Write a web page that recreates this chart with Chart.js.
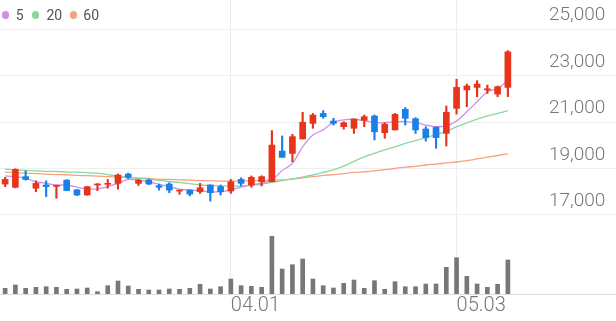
<!DOCTYPE html>
<html><head><meta charset="utf-8">
<script src="https://cdn.jsdelivr.net/npm/chart.js@4.4.1/dist/chart.umd.min.js"></script>
<style>
html,body{margin:0;padding:0;background:#fff;}
#wrap{position:relative;width:616px;height:321px;}
#c{position:absolute;left:0;top:0;}
.lg{position:absolute;font:14px Roboto, sans-serif;color:#555;line-height:14px;top:8px;}
.dot{position:absolute;width:7.6px;height:7.6px;border-radius:50%;top:11.2px;}
</style></head>
<body>
<div id="wrap">
<canvas id="c" width="616" height="321"></canvas>
<div id="legend"></div>
</div>
<script>
// ---- data ----
const dates = ['02.28','02.29','03.04','03.05','03.06','03.07','03.08','03.11','03.12','03.13','03.14','03.15','03.18','03.19','03.20','03.21','03.22','03.25','03.26','03.27','03.28','03.29',
 '04.01','04.02','04.03','04.04','04.05','04.08','04.09','04.11','04.12','04.15','04.16','04.17','04.18','04.19','04.22','04.23','04.24','04.25','04.26','04.29','04.30','05.02','05.03','05.07','05.08','05.09','05.10','05.13'];
const shownDates = ['04.01','05.03'];
const openP  = [18330,18190,18650,18150,18290,18230,18500,18080,17860,18290,18320,18360,18760,18360,18500,18260,18330,18030,18070,18000,18290,18220,18030,18530,18290,18430,18430,19750,19650,20270,20940,21370,21040,20800,20730,21070,21260,20540,20660,21550,21140,20700,20770,20510,21590,22380,22490,22380,22200,22490];
const highP  = [18620,18990,18900,18470,18470,18280,18520,18100,18230,18360,18530,18760,18800,18530,18550,18330,18390,18070,18080,18360,18300,18290,18530,18600,18680,18690,20630,20400,20470,21420,21370,21490,21160,21010,21130,21300,21300,20970,21370,21620,21190,20800,20800,21690,22840,22630,22780,22590,22550,24070];
const lowP   = [18220,18170,18500,18000,17790,17720,18040,17830,17850,18050,18150,18110,18560,18270,18300,18070,17960,17890,17820,17930,17600,17860,17930,18250,18190,18250,18430,19480,19290,20270,20730,21160,20870,20690,20510,20800,20230,20300,20660,20870,20510,20180,19870,19970,21340,21660,22090,22230,22090,22090];
const closeP = [18530,18960,18530,18360,18220,18280,18050,17860,18220,18330,18360,18720,18620,18500,18330,18190,18070,18070,17900,18170,17960,18000,18430,18360,18620,18650,20010,19480,20370,20990,21300,21230,20940,20970,21130,21230,20580,20910,21330,21160,20660,20330,20330,21420,22490,22550,22630,22430,22520,24020];
const volume = [57000,90000,57000,67000,73000,67000,47000,50000,60000,23000,83000,130000,80000,47000,40000,40000,50000,47000,57000,97000,50000,73000,150000,83000,77000,67000,577000,250000,293000,350000,150000,83000,60000,107000,140000,57000,133000,47000,123000,73000,73000,100000,100000,267000,363000,177000,100000,67000,97000,340000];
const ma5  = [18680,18650,18580,18430,18360,18290,18290,18200,18120,18120,18220,18360,18530,18500,18430,18320,18220,18110,18080,18050,18000,18000,18080,18200,18310,18360,18510,18910,19220,19930,20440,20660,20990,21090,21120,21060,20970,20970,21010,21020,20970,20870,20800,20830,21040,21440,21870,22300,22450,22780];
const ma20 = [18970,18940,18920,18900,18880,18870,18850,18840,18820,18800,18740,18670,18620,18580,18540,18490,18440,18400,18350,18290,18270,18250,18250,18240,18270,18320,18400,18480,18560,18630,18720,18830,18940,19100,19310,19500,19650,19800,19930,20080,20200,20330,20460,20610,20790,20960,21120,21260,21370,21490];
const ma60 = [18840,18820,18800,18780,18760,18740,18730,18700,18690,18670,18650,18630,18610,18590,18570,18540,18530,18510,18500,18480,18470,18460,18460,18460,18480,18480,18500,18510,18540,18600,18650,18700,18740,18780,18830,18860,18900,18950,19000,19060,19090,19150,19190,19240,19280,19340,19410,19490,19560,19630];
const maLabels = ['5','20','60'];
const priceTicks = [17000,19000,21000,23000,25000];

// ---- styles ----
const RED = '#e8341a', BLUE = '#1b7fe8';
const MA_COLORS = ['#cd8eec','#8ad7a0','#f7a27c'];
const PMIN = 13600, PMAX = 26250;
const candleColors = closeP.map((c,i) => c >= openP[i] ? RED : BLUE);

// HTML legend
const lg = document.getElementById('legend');
const dotX = [1.7, 31.7, 69.5], txtX = [15.7, 46.5, 83.3];
maLabels.forEach((t,i) => {
  const d = document.createElement('span'); d.className='dot'; d.style.left=dotX[i]+'px'; d.style.background=MA_COLORS[i]; lg.appendChild(d);
  const s = document.createElement('span'); s.className='lg'; s.style.left=txtX[i]+'px'; s.textContent=t; lg.appendChild(s);
});

const yFont = {family:'Roboto', size:19, weight:300};
const xFont = {family:'Roboto', size:20, weight:300};

new Chart(document.getElementById('c'), {
  type: 'bar',
  data: {
    labels: dates,
    datasets: [
      {type:'line', label:maLabels[0], data:ma5, borderColor:MA_COLORS[0], borderWidth:1.3, pointRadius:0, tension:0.25, yAxisID:'y', order:3},
      {type:'line', label:maLabels[1], data:ma20, borderColor:MA_COLORS[1], borderWidth:1.3, pointRadius:0, tension:0.25, yAxisID:'y', order:4},
      {type:'line', label:maLabels[2], data:ma60, borderColor:MA_COLORS[2], borderWidth:1.3, pointRadius:0, tension:0.25, yAxisID:'y', order:5},
      {label:'wick', data: lowP.map((l,i)=>[l, highP[i]]), backgroundColor:candleColors, barThickness:1.5, grouped:false, yAxisID:'y', order:1},
      {label:'body', data: openP.map((o,i)=>[o, closeP[i]]), backgroundColor:candleColors, barThickness:6, minBarLength:1, grouped:false, yAxisID:'y', order:0},
      {label:'volume', data: volume, backgroundColor:'#777777', barThickness:4, grouped:false, yAxisID:'v', order:2}
    ]
  },
  options: {
    responsive:false, animation:false,
    layout:{padding:0},
    plugins:{legend:{display:false}, tooltip:{enabled:false}},
    scales:{
      x:{
        offset:true,
        grid:{offset:false, color:'#ececec', drawTicks:false},
        border:{display:false},
        afterBuildTicks: s => { s.ticks = s.ticks.filter(t => shownDates.includes(dates[t.value])); },
        ticks:{autoSkip:false, maxRotation:0, align:'start', padding:0, color:'#777', font:xFont},
        afterFit: s => { s.height = 27; }
      },
      y:{
        position:'right', min:PMIN, max:PMAX,
        afterBuildTicks: s => { s.ticks = [PMIN, ...priceTicks].map(v => ({value:v})); },
        grid:{color: c => (c.tick && c.tick.value === PMIN) ? '#dddddd' : '#efefef', tickLength:103, drawTicks:true},
        border:{display:false},
        ticks:{callback: v => v === PMIN ? '' : v.toLocaleString('en-US'), labelOffset:-13.5, padding:-67, color:'#777', font:yFont},
        afterFit: s => { s.width = 103; }
      },
      v:{display:false, min:0, max:2940000}
    }
  }
});
</script>
</body></html>
